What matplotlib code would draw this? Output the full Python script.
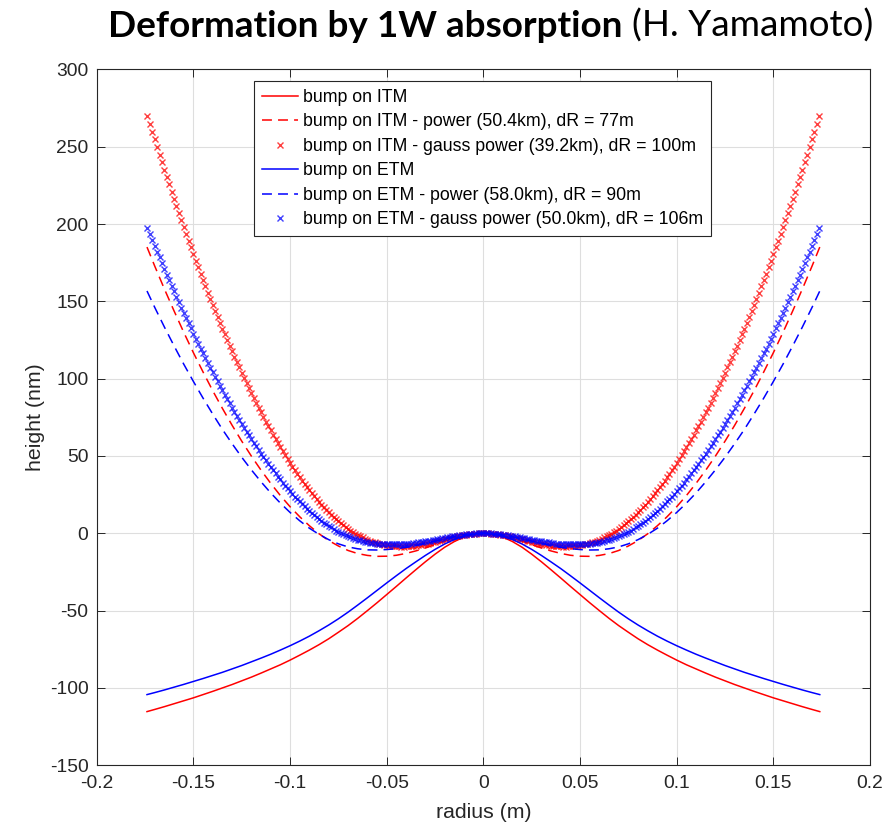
#!/usr/bin/env python3
"""
Thermal bump from 1 W absorption on ITM / ETM, with the best-fit
curvature (power) added back in, plotted against mirror radius.
"""

import numpy as np
import matplotlib
matplotlib.use("Agg")
import matplotlib.pyplot as plt

# radius samples from the centre to the mirror edge (m)
radius_line = np.append(np.arange(0, 0.1701, 0.005), 0.174)
radius_mark = np.arange(0, 140) * 0.00125

# surface height (nm) on the line grid
itm_bump = [0.0, -0.6, -2.4, -5.3, -9.0, -13.5, -18.4, -23.6, -28.9, -34.3,
            -39.6, -44.9, -50.0, -55.0, -59.7, -64.0, -68.2, -72.0, -75.5, -78.8,
            -82.0, -85.0, -87.7, -90.4, -93.0, -95.4, -97.8, -100.0, -102.2, -104.3,
            -106.4, -108.3, -110.2, -112.1, -113.9, -115.3]
itm_power = [0.0, -0.4, -1.4, -3.1, -5.0, -7.3, -9.5, -11.4, -13.0, -14.2,
             -14.8, -14.9, -14.3, -13.1, -11.1, -8.2, -4.7, -0.3, 4.9, 10.7,
             17.2, 24.4, 32.3, 40.8, 49.9, 59.6, 69.9, 80.8, 92.2, 104.3,
             116.8, 130.0, 143.8, 158.0, 172.8, 185.1]
etm_bump = [0.0, -0.5, -1.8, -4.0, -6.9, -10.4, -14.3, -18.5, -22.8, -27.4,
            -32.1, -36.9, -41.7, -46.4, -51.0, -55.3, -59.3, -63.0, -66.5, -69.7,
            -72.7, -75.5, -78.2, -80.7, -83.1, -85.5, -87.7, -89.9, -91.9, -93.9,
            -95.8, -97.7, -99.5, -101.3, -103.0, -104.3]
etm_power = [0.0, -0.3, -0.9, -2.2, -3.5, -5.0, -6.5, -7.9, -9.1, -9.9,
             -10.5, -10.8, -10.7, -10.0, -8.8, -6.8, -4.1, -0.7, 3.3, 8.1,
             13.5, 19.5, 26.1, 33.3, 41.0, 49.2, 58.0, 67.2, 77.1, 87.4,
             98.2, 109.4, 121.2, 133.4, 146.1, 156.7]

# surface height (nm) on the marker grid
itm_gauss = [0.0, 0.0, -0.1, -0.2, -0.3, -0.4, -0.6, -0.9, -1.1, -1.4,
             -1.7, -2.0, -2.4, -2.8, -3.1, -3.5, -3.9, -4.3, -4.7, -5.1,
             -5.5, -5.9, -6.2, -6.6, -6.9, -7.2, -7.5, -7.8, -8.0, -8.2,
             -8.3, -8.4, -8.5, -8.6, -8.6, -8.5, -8.4, -8.3, -8.2, -8.0,
             -7.7, -7.5, -7.1, -6.7, -6.3, -5.9, -5.3, -4.8, -4.1, -3.5,
             -2.7, -1.9, -1.1, -0.2, 0.8, 1.8, 2.8, 4.0, 5.2, 6.4,
             7.7, 9.1, 10.5, 12.0, 13.5, 15.1, 16.7, 18.4, 20.2, 22.0,
             23.9, 25.8, 27.8, 29.8, 31.9, 34.0, 36.2, 38.5, 40.8, 43.1,
             45.5, 48.0, 50.5, 53.1, 55.7, 58.3, 61.0, 63.8, 66.6, 69.4,
             72.3, 75.3, 78.3, 81.3, 84.4, 87.5, 90.7, 93.9, 97.2, 100.5,
             103.9, 107.3, 110.7, 114.2, 117.8, 121.4, 125.0, 128.7, 132.4, 136.2,
             140.0, 143.9, 147.8, 151.7, 155.7, 159.8, 163.9, 168.0, 172.2, 176.4,
             180.6, 184.9, 189.3, 193.7, 198.1, 202.6, 207.1, 211.7, 216.3, 221.0,
             225.7, 230.4, 235.2, 240.0, 244.9, 249.8, 254.8, 259.8, 264.8, 269.9]
etm_gauss = [0.0, 0.0, -0.1, -0.1, -0.2, -0.3, -0.5, -0.6, -0.8, -1.0,
             -1.3, -1.5, -1.7, -2.0, -2.3, -2.6, -2.9, -3.1, -3.5, -3.8,
             -4.1, -4.4, -4.7, -5.0, -5.2, -5.4, -5.7, -5.9, -6.2, -6.4,
             -6.6, -6.7, -6.8, -7.0, -7.0, -7.1, -7.1, -7.2, -7.1, -7.1,
             -7.1, -7.0, -6.9, -6.8, -6.6, -6.4, -6.2, -6.0, -5.7, -5.4,
             -5.0, -4.6, -4.3, -3.8, -3.2, -2.6, -2.0, -1.3, -0.6, 0.1,
             0.9, 1.8, 2.7, 3.8, 4.8, 5.8, 6.9, 8.0, 9.3, 10.5,
             11.7, 13.1, 14.5, 16.0, 17.5, 18.9, 20.6, 22.2, 23.8, 25.5,
             27.3, 29.1, 30.9, 32.8, 34.8, 36.7, 38.7, 40.8, 42.8, 45.0,
             47.1, 49.3, 51.6, 53.8, 56.2, 58.5, 60.9, 63.3, 65.8, 68.3,
             70.8, 73.4, 76.0, 78.6, 81.3, 84.0, 86.8, 89.6, 92.4, 95.3,
             98.2, 101.1, 104.1, 107.1, 110.2, 113.2, 116.4, 119.5, 122.7, 125.9,
             129.2, 132.5, 135.8, 139.2, 142.6, 146.0, 149.5, 153.0, 156.5, 160.1,
             163.7, 167.3, 171.0, 174.7, 178.4, 182.2, 186.0, 189.9, 193.8, 197.7]

labels = ['bump on ITM',
          'bump on ITM - power (50.4km), dR = 77m',
          'bump on ITM - gauss power (39.2km), dR = 100m',
          'bump on ETM',
          'bump on ETM - power (58.0km), dR = 90m',
          'bump on ETM - gauss power (50.0km), dR = 106m']
xtick_labels = ['-0.2', '-0.15', '-0.1', '-0.05', '0', '0.05', '0.1', '0.15', '0.2']

AX_COLOR = '#262626'


def mirror(r, h):
    """Profiles are axisymmetric: reflect the half profile onto negative radius"""
    r = np.asarray(r)
    h = np.asarray(h)
    return np.concatenate((-r[::-1], r[1:])), np.concatenate((h[::-1], h[1:]))


def main():
    plt.rcParams['font.family'] = ['Liberation Sans', 'DejaVu Sans']
    plt.rcParams['axes.unicode_minus'] = False

    fig = plt.figure(figsize=(8.94, 8.31), dpi=100)
    ax = fig.add_axes([0.1082, 0.0791, 0.8650, 0.8374])

    dash = (0, (6.5, 4))
    mk = dict(ls='none', marker='x', ms=4.4, mew=1.0, alpha=0.75)
    h = []
    h += ax.plot(*mirror(radius_line, itm_bump), color='r', lw=1.1)
    h += ax.plot(*mirror(radius_line, itm_power), color='r', lw=1.1, ls=dash)
    h += ax.plot(*mirror(radius_mark, itm_gauss), color='r', **mk)
    h += ax.plot(*mirror(radius_line, etm_bump), color='b', lw=1.1)
    h += ax.plot(*mirror(radius_line, etm_power), color='b', lw=1.1, ls=dash)
    h += ax.plot(*mirror(radius_mark, etm_gauss), color='b', **mk)

    ax.set_xlim(-0.2, 0.2)
    ax.set_ylim(-150, 300)
    ax.set_xticks(np.arange(-0.2, 0.201, 0.05))
    ax.set_xticklabels(xtick_labels)
    ax.set_yticks(np.arange(-150, 301, 50))
    ax.grid(True, color='#dedede', lw=0.8)
    ax.set_axisbelow(True)
    ax.tick_params(direction='in', length=5.5, width=0.7, top=True, right=True,
                   colors=AX_COLOR, labelsize=13.9)
    ax.tick_params(axis='x', pad=7)
    ax.tick_params(axis='y', pad=6)
    for s in ax.spines.values():
        s.set_color(AX_COLOR)
        s.set_linewidth(0.8)
    ax.set_xlabel('radius (m)', fontsize=15.3, color=AX_COLOR, labelpad=8)
    ax.set_ylabel('height (nm)', fontsize=15.3, color=AX_COLOR, labelpad=3)

    leg = ax.legend(h, labels, loc='upper left', bbox_to_anchor=(0.2034, 0.9833),
                    borderaxespad=0, fontsize=12.8, fancybox=False,
                    edgecolor=AX_COLOR, framealpha=1, handlelength=2.0,
                    handletextpad=0.28, labelspacing=0.42, borderpad=0.45,
                    numpoints=1)
    leg.get_frame().set_linewidth(0.8)

    # two-weight title: bold part, then the author in regular weight
    y_base = 1 - 37 / 831
    t1 = fig.text(108 / 894, y_base, 'Deformation by 1W absorption', fontsize=26.6,
                  fontfamily='Lato', fontweight='bold', va='baseline')
    fig.canvas.draw()
    bb = t1.get_window_extent()
    fig.text((bb.x1 + 9.5) / 894, y_base, '(H. Yamamoto)', fontsize=26.6,
             fontfamily='Lato', va='baseline')

    fig.savefig('out.png')


if __name__ == "__main__":
    main()
